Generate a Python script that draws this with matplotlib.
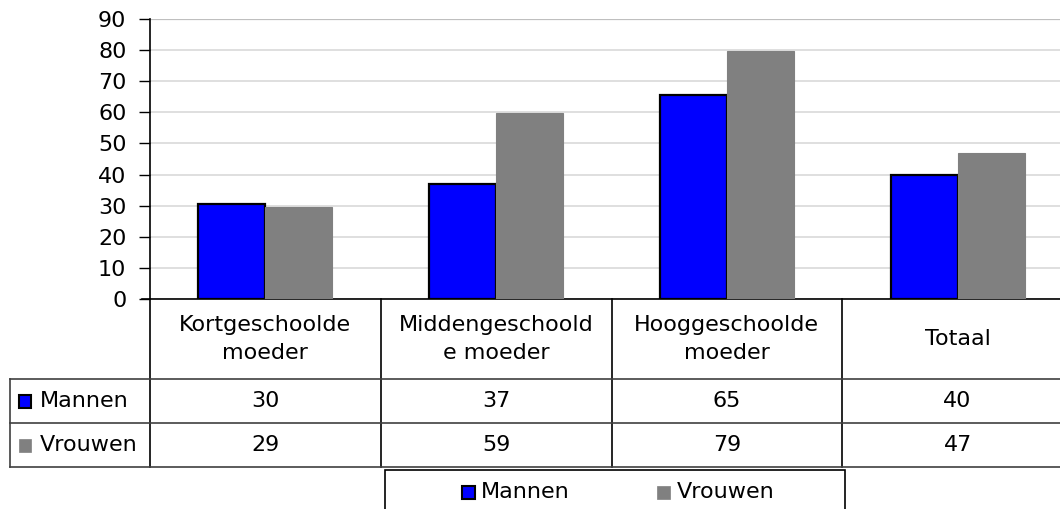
import matplotlib.pyplot as plt
from matplotlib.patches import Rectangle
from matplotlib.transforms import blended_transform_factory
from matplotlib.lines import Line2D

# values
categories = ['Kortgeschoolde\nmoeder', 'Middengeschoold\ne moeder', 'Hooggeschoolde\nmoeder', 'Totaal']
series = ['Mannen', 'Vrouwen']
mannen = [30.5, 37.0, 65.5, 40.0]
vrouwen = [29.7, 59.7, 79.7, 47.0]
colors = ['#0000ff', '#808080']
edges = ['black', '#808080']

plt.rcParams['font.family'] = ['DejaVu Sans']
FS = 16

W, H = 1060, 509
fig = plt.figure(figsize=(W / 100, H / 100), dpi=100)

def fx(px):
    return px / W

def fy(py):
    return 1 - py / H

# plot area runs past the right edge of the image, as in the reference
ax = fig.add_axes([fx(150), fy(299), fx(1073 - 150), fy(19) - fy(299)])
x = list(range(len(categories)))
bw = 0.29
for vals, off, c, e, lw in [(mannen, -bw / 2, colors[0], edges[0], 1.6),
                            (vrouwen, bw / 2, colors[1], edges[1], 0.8)]:
    ax.bar([i + off for i in x], vals, width=bw, color=c, edgecolor=e, linewidth=lw, zorder=3)

ax.set_xlim(-0.5, len(categories) - 0.5)
ax.set_ylim(0, 90)
ax.set_yticks(range(0, 91, 10))
ax.yaxis.grid(True, color='#d9d9d9', linewidth=1.2, zorder=0)
ax.set_axisbelow(True)
ax.set_xticks([])
for s in ['top', 'right']:
    ax.spines[s].set_visible(False)
ax.spines['left'].set_linewidth(1.2)
ax.spines['bottom'].set_linewidth(1.2)
ax.tick_params(axis='y', length=8, width=1, labelsize=FS, pad=9)
ax.axhline(90, color='#bfbfbf', linewidth=1.6, zorder=1)

# data table below the plot
tr = blended_transform_factory(ax.transData, fig.transFigure)
y_top, y_hdr, y_m, y_v = fy(299), fy(379), fy(423), fy(467)
x_left = fx(10)

for b in [i + 0.5 for i in x]:
    fig.add_artist(Line2D([b, b], [y_v, y_top], transform=tr, color='black', linewidth=1.2))
fig.add_artist(Line2D([fx(150), fx(150)], [y_v, y_top], color='black', linewidth=1.2))
fig.add_artist(Line2D([x_left, x_left], [y_v, y_hdr], color='#404040', linewidth=1.2))
for yy in [y_hdr, y_m, y_v]:
    fig.add_artist(Line2D([x_left, 1], [yy, yy], color='#404040', linewidth=1.2))
# tick stub left of the zero line
fig.add_artist(Line2D([fx(142), fx(150)], [y_top, y_top], color='black', linewidth=1.2))

for i, cat in enumerate(categories):
    fig.text(i, (y_top + y_hdr) / 2, cat, transform=tr, ha='center', va='center',
             fontsize=FS, linespacing=1.55)
    fig.text(i, (y_hdr + y_m) / 2, str(int(mannen[i])), transform=tr,
             ha='center', va='center', fontsize=FS)
    fig.text(i, (y_m + y_v) / 2, str(int(vrouwen[i])), transform=tr,
             ha='center', va='center', fontsize=FS)

for row, (yt, yb) in enumerate([(y_hdr, y_m), (y_m, y_v)]):
    yc = (yt + yb) / 2
    fig.add_artist(Rectangle((fx(19), yc - 6.5 / H), 12 / W, 13 / H, facecolor=colors[row],
                             edgecolor=edges[row], linewidth=1.5 if row == 0 else 0.5))
    fig.text(fx(40), yc, series[row], ha='left', va='center', fontsize=FS)

# legend box at the bottom
fig.add_artist(Rectangle((fx(385), fy(515)), fx(845 - 385), fy(470) - fy(515),
                         facecolor='white', edgecolor='black', linewidth=1.2))
yl = fy(492)
for xs, xt, row in [(462, 481, 0), (657, 677, 1)]:
    fig.add_artist(Rectangle((fx(xs), yl - 6.5 / H), 13 / W, 13 / H, facecolor=colors[row],
                             edgecolor=edges[row], linewidth=1.5 if row == 0 else 0.5))
    fig.text(fx(xt), yl, series[row], ha='left', va='center', fontsize=FS)

fig.savefig('out.png', dpi=100)
